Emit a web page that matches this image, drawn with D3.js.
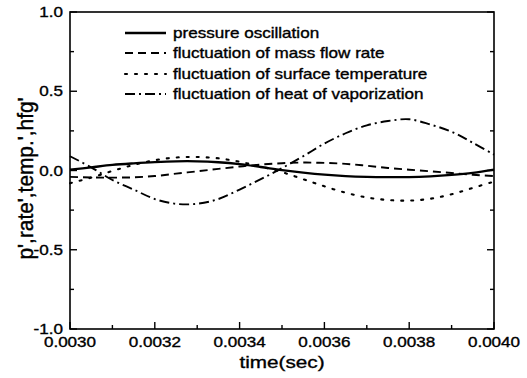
<!DOCTYPE html>
<html>
<head>
<meta charset="utf-8">
<script src="https://cdn.jsdelivr.net/npm/d3@7"></script>
<style>
  html, body { margin: 0; padding: 0; background: #fff; }
  svg { display: block; }
  text { font-family: "Liberation Sans", Arial, sans-serif; fill: #000; stroke: #000; stroke-width: 0.35px; }
</style>
</head>
<body>
<svg id="chart" width="527" height="378"></svg>
<script>
// time axis samples (s)
const time = [0.00300, 0.00305, 0.00310, 0.00315, 0.00320, 0.00325, 0.00330,
              0.00335, 0.00340, 0.00345, 0.00350, 0.00355, 0.00360, 0.00365,
              0.00370, 0.00375, 0.00380, 0.00385, 0.00390, 0.00395, 0.00400];

// normalized fluctuations
const pressure = [0.005, 0.02, 0.035, 0.045, 0.053, 0.058, 0.058,
                  0.052, 0.04, 0.022, 0.003, -0.013, -0.026, -0.035,
                  -0.04, -0.042, -0.042, -0.037, -0.028, -0.015, 0.005];
const massFlow = [-0.04, -0.044, -0.045, -0.043, -0.035, -0.02, -0.005,
                  0.01, 0.025, 0.038, 0.046, 0.05, 0.048, 0.042,
                  0.03, 0.016, 0.005, -0.005, -0.016, -0.027, -0.035];
const surfTemp = [-0.08, -0.045, -0.003, 0.035, 0.065, 0.082, 0.085,
                  0.077, 0.055, 0.025, -0.01, -0.055, -0.1, -0.14,
                  -0.17, -0.186, -0.19, -0.178, -0.15, -0.11, -0.07];
const heatVap  = [0.09, 0.02, -0.06, -0.12, -0.18, -0.21, -0.21,
                  -0.18, -0.12, -0.055, 0.015, 0.09, 0.17, 0.235,
                  0.285, 0.312, 0.323, 0.29, 0.245, 0.175, 0.1];

const seriesNames = ["pressure oscillation", "fluctuation of mass flow rate",
                     "fluctuation of surface temperature", "fluctuation of heat of vaporization"];

const xTicks = [0.0030, 0.0032, 0.0034, 0.0036, 0.0038, 0.0040];
const xTickLabels = ["0.0030", "0.0032", "0.0034", "0.0036", "0.0038", "0.0040"];
const yTicks = [-1.0, -0.5, 0.0, 0.5, 1.0];
const yTickLabels = ["-1.0", "-0.5", "0.0", "0.5", "1.0"];

const series = [
  { values: pressure, dash: null, width: 2.3 },
  { values: massFlow, dash: "8,5", width: 1.9 },
  { values: surfTemp, dash: "2,8", width: 2.1 },
  { values: heatVap,  dash: "10,4,2,4", width: 1.9 }
];

const svg = d3.select("#chart");
const plotL = 70, plotR = 494, plotT = 12, plotB = 329;
const SX = 1.22; // horizontal text stretch

const x = d3.scaleLinear().domain([0.0030, 0.0040]).range([plotL, plotR]);
const y = d3.scaleLinear().domain([-1, 1]).range([plotB, plotT]);

// frame
svg.append("rect").attr("x", plotL).attr("y", plotT)
  .attr("width", plotR - plotL).attr("height", plotB - plotT)
  .attr("fill", "none").attr("stroke", "#000").attr("stroke-width", 1.6);

const gAxes = svg.append("g").attr("stroke", "#000").attr("stroke-width", 1.4);

// bottom ticks (inward)
d3.range(0, 11).forEach(i => {
  const t = 0.0030 + i * 0.0001;
  const len = i % 2 === 0 ? 7 : 4;
  gAxes.append("line").attr("x1", x(t)).attr("x2", x(t))
    .attr("y1", plotB).attr("y2", plotB - len);
});
// left and right ticks (inward)
d3.range(0, 9).forEach(i => {
  const v = -1 + i * 0.25;
  const len = i % 2 === 0 ? 7 : 4;
  gAxes.append("line").attr("x1", plotL).attr("x2", plotL + len)
    .attr("y1", y(v)).attr("y2", y(v));
  gAxes.append("line").attr("x1", plotR).attr("x2", plotR - len)
    .attr("y1", y(v)).attr("y2", y(v));
});

function stretched(g, txt, px, py, size, anchor) {
  return g.append("text")
    .attr("transform", `translate(${px},${py}) scale(${SX},1)`)
    .attr("font-size", size)
    .attr("text-anchor", anchor)
    .text(txt);
}

// tick labels
xTicks.forEach((t, i) => stretched(svg, xTickLabels[i], x(t), 347, 14, "middle"));
yTicks.forEach((v, i) => stretched(svg, yTickLabels[i], 63, y(v) + 5, 14, "end"));

// axis titles
stretched(svg, "time(sec)", (plotL + plotR) / 2, 368, 17, "middle");
svg.append("text")
  .attr("transform", `translate(33,${(plotT + plotB) / 2 + 8}) scale(${SX},1) rotate(-90)`)
  .attr("font-size", 18)
  .attr("text-anchor", "middle")
  .attr("textLength", 162)
  .attr("lengthAdjust", "spacingAndGlyphs")
  .text("p',rate',temp.',hfg'");

// curves
const line = d3.line()
  .x((d, i) => x(time[i]))
  .y(d => y(d))
  .curve(d3.curveCatmullRom.alpha(0.5));

const gLines = svg.append("g").attr("fill", "none").attr("stroke", "#000");
series.forEach(s => {
  gLines.append("path")
    .attr("d", line(s.values))
    .attr("stroke-width", s.width)
    .attr("stroke-dasharray", s.dash)
    .attr("stroke-linecap", s.dash === "2,8" ? "round" : "butt");
});

// legend
const legRows = [33, 53, 74, 94];
series.forEach((s, i) => {
  svg.append("line")
    .attr("x1", 125).attr("x2", 166)
    .attr("y1", legRows[i]).attr("y2", legRows[i])
    .attr("stroke", "#000")
    .attr("stroke-width", s.width)
    .attr("stroke-dasharray", s.dash)
    .attr("stroke-linecap", s.dash === "2,8" ? "round" : "butt");
  stretched(svg, seriesNames[i], 173, legRows[i] + 5, 14, "start");
});
</script>
</body>
</html>
